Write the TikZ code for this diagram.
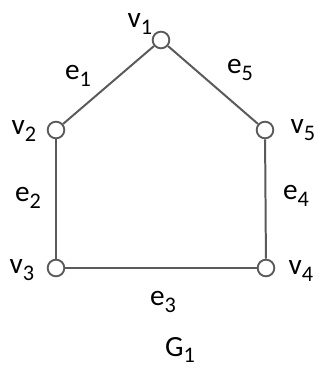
\documentclass[tikz,border=0pt]{standalone}
\usepackage{fontspec}
\setmainfont{Carlito}
\usepackage{tikz}
\definecolor{edgegray}{HTML}{5A5A5A}
\newcommand{\idx}[1]{\raisebox{-0.45ex}{\fontsize{19}{20}\selectfont #1}}

\begin{document}
\begin{tikzpicture}[x=0.03cm,y=-0.03cm,font=\fontsize{25}{27}\selectfont,
 vert/.style={circle,draw=edgegray,line width=1.6pt,fill=white,inner sep=0pt,minimum size=0.5cm},
 edge/.style={draw=edgegray,line width=1.7pt},
 lab/.style={inner sep=0pt}]
\useasboundingbox (0,0) rectangle (320,368);
\node[vert] (v1) at (161,40) {};
\node[vert] (v2) at (56,130) {};
\node[vert] (v5) at (265,130) {};
\node[vert] (v3) at (56,268) {};
\node[vert] (v4) at (266,268) {};
\draw[edge] (v1)--(v2);\draw[edge] (v2)--(v3);\draw[edge] (v3)--(v4);
\draw[edge] (v4)--(v5);\draw[edge] (v5)--(v1);
\node[lab] (l1) at (140,24) {v\idx{1}};
\node[lab] (l2) at (24,131) {v\idx{2}};
\node[lab] (l3) at (22,270) {v\idx{3}};
\node[lab] (l4) at (301,271) {v\idx{4}};
\node[lab] (l5) at (303,130) {v\idx{5}};
\node[lab] (k1) at (78,76) {e\idx{1}};
\node[lab] (k2) at (28,198) {e\idx{2}};
\node[lab] (k3) at (163,302) {e\idx{3}};
\node[lab] (k4) at (296,196) {e\idx{4}};
\node[lab] (k5) at (240,70) {e\idx{5}};
\node[lab] (g1) at (180,350) {G\idx{1}};
\end{tikzpicture}
\end{document}
